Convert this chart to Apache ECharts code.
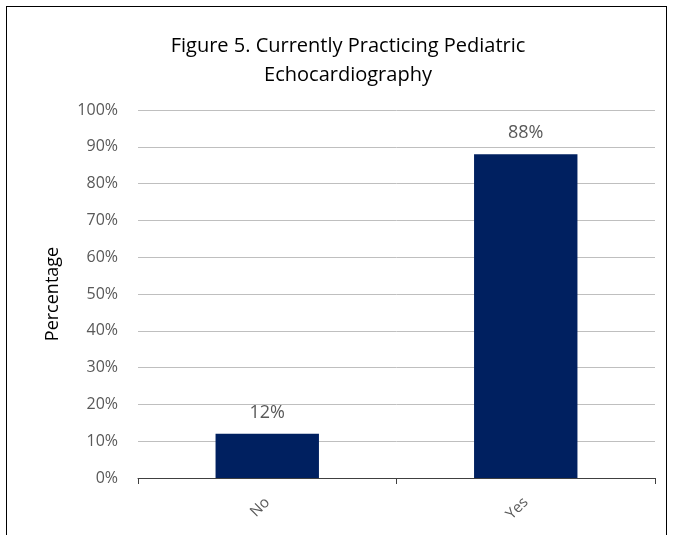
<!DOCTYPE html>
<html>
<head>
<meta charset="utf-8">
<script src="https://cdn.jsdelivr.net/npm/echarts@6/dist/echarts.min.js"></script>
<style>
  html, body { margin: 0; padding: 0; background: #fff; }
  #frame { position: absolute; left: 6px; top: 6px; width: 661px; height: 540px; border: 1px solid #000; border-bottom: none; box-sizing: border-box; }
  #chart { position: absolute; left: 0; top: 0; width: 673px; height: 535px; }
</style>
</head>
<body>
<div id="frame"></div>
<div id="chart"></div>
<script>
var categories = ['No', 'Yes'];
var values = [12, 88];
var yTicks = [0, 10, 20, 30, 40, 50, 60, 70, 80, 90, 100];

var chart = echarts.init(document.getElementById('chart'));
var font = '"Open Sans", "Noto Sans", sans-serif';

chart.setOption({
  animation: false,
  textStyle: { fontFamily: font },
  title: {
    text: 'Figure 5. Currently Practicing Pediatric\nEchocardiography',
    left: 343,
    textAlign: 'center',
    top: 27,
    textStyle: { fontSize: 20, fontWeight: 'normal', color: '#000', lineHeight: 29, fontFamily: font }
  },
  grid: { left: 138, right: 18, top: 110, bottom: 57 },
  xAxis: {
    type: 'category',
    data: categories,
    axisLine: { lineStyle: { color: '#404040', width: 1 } },
    axisTick: { show: true, length: 6, lineStyle: { color: '#404040' } },
    axisLabel: { rotate: 45, fontSize: 15, color: '#595959', margin: 22 }
  },
  yAxis: {
    type: 'value',
    min: 0,
    max: 100,
    interval: 10,
    name: 'Percentage',
    nameLocation: 'middle',
    nameGap: 76,
    nameRotate: 90,
    nameTextStyle: { fontSize: 18, color: '#000' },
    axisLine: { show: false },
    axisTick: { show: false },
    axisLabel: {
      fontSize: 16, color: '#595959', margin: 20,
      formatter: function (v) { return yTicks.indexOf(v) >= 0 ? v + '%' : ''; }
    },
    splitLine: { lineStyle: { color: '#bfbfbf', width: 1 } }
  },
  series: [{
    type: 'bar',
    data: values,
    barWidth: '40%',
    itemStyle: { color: '#002060' },
    label: {
      show: true,
      position: 'top',
      distance: 12,
      fontSize: 18,
      color: '#595959',
      formatter: '{c}%'
    }
  }]
});
</script>
</body>
</html>
